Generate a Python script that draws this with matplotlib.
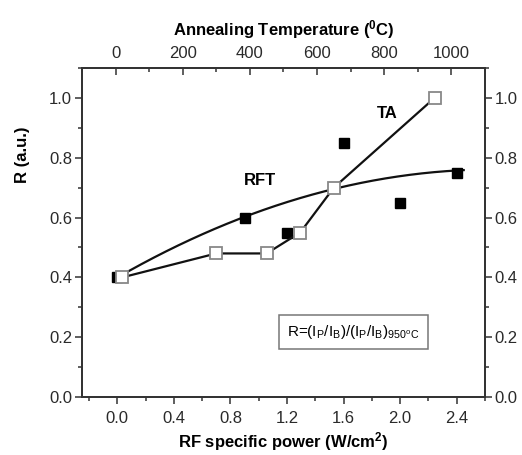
import numpy as np
import matplotlib
matplotlib.use("Agg")
import matplotlib.pyplot as plt
from matplotlib.ticker import MultipleLocator, FormatStrFormatter

plt.rcParams['font.family'] = ['Liberation Sans', 'DejaVu Sans']
plt.rcParams['mathtext.fontset'] = 'custom'
plt.rcParams['mathtext.rm'] = 'Liberation Sans'
plt.rcParams['mathtext.it'] = 'Liberation Sans'

# RFT: R vs RF specific power (W/cm2)
rft_power = [0.0, 0.9, 1.2, 1.6, 2.0, 2.4]
rft_R = [0.40, 0.60, 0.55, 0.85, 0.65, 0.75]

# RFT trend line
rft_trend_power = [0.0, 0.9, 1.55, 2.45]
rft_trend_R = [0.40, 0.60, 0.70, 0.758]

# TA: R vs annealing temperature (C)
ta_temp = [20, 300, 450, 550, 650, 950]
ta_R = [0.40, 0.48, 0.48, 0.55, 0.70, 1.00]

fig = plt.figure(figsize=(5.22, 4.55), dpi=100)
ax = fig.add_axes([0.157, 0.1275, 0.772, 0.723])
ax2 = ax.twiny()

spine_c = '#333333'
for a in (ax, ax2):
    for s in a.spines.values():
        s.set_color(spine_c)
        s.set_linewidth(1.3)

coef = np.polyfit(rft_trend_power, rft_trend_R, 2)
xs = np.linspace(rft_trend_power[0], rft_trend_power[-1], 200)
ax.plot(xs, np.polyval(coef, xs), color='#111111', lw=1.6, zorder=2)
ax.plot(rft_power, rft_R, 's', color='black', ms=7.5, zorder=3)

ax2.plot(ta_temp, ta_R, '-', color='#111111', lw=1.6, zorder=2)
ax2.plot(ta_temp, ta_R, 's', mfc='white', mec='#888888', mew=1.3, ms=8.5, zorder=4)

ax.set_xlim(-0.25, 2.6)
ax.set_ylim(0.0, 1.1)
ax2.set_xlim(-100, 1100)

ax.xaxis.set_major_locator(MultipleLocator(0.4))
ax.xaxis.set_minor_locator(MultipleLocator(0.2))
ax.yaxis.set_major_locator(MultipleLocator(0.2))
ax.yaxis.set_minor_locator(MultipleLocator(0.1))
ax2.xaxis.set_major_locator(MultipleLocator(200))
ax2.xaxis.set_minor_locator(MultipleLocator(100))

ax.xaxis.set_major_formatter(FormatStrFormatter('%.1f'))
ax.yaxis.set_major_formatter(FormatStrFormatter('%.1f'))

lab_c = '#2a2a2a'
ax.tick_params(axis='both', which='both', direction='out', color=spine_c,
               labelsize=12, labelcolor=lab_c)
ax.tick_params(axis='y', which='both', left=True, right=True, labelleft=True, labelright=True, pad=2)
ax.tick_params(axis='x', which='both', pad=5)
ax.tick_params(which='major', length=5, width=1.1)
ax.tick_params(which='minor', length=3, width=1.1)
ax.tick_params(axis='x', which='both', top=False)
ax2.tick_params(axis='x', which='both', direction='in', color=spine_c,
                labelsize=12, labelcolor=lab_c, width=1.1, pad=5)
ax2.tick_params(axis='x', which='major', length=5)
ax2.tick_params(axis='x', which='minor', length=3)
ax2.tick_params(axis='y', which='both', left=False, right=False, labelleft=False, labelright=False)

ax.set_xlabel('RF specific power (W/cm$^\\mathregular{2}$)', fontsize=12, fontweight='bold', labelpad=3)
ax.set_ylabel('R (a.u.)', fontsize=12, fontweight='bold')
ax.yaxis.set_label_coords(-0.13, 0.735)
ax2.set_xlabel('Annealing Temperature ($^\\mathregular{0}$C)', fontsize=12, fontweight='bold', labelpad=8)

ax.text(1.01, 0.723, 'RFT', fontsize=12, fontweight='bold', ha='center', va='center')
ax.text(1.91, 0.947, 'TA', fontsize=12, fontweight='bold', ha='center', va='center')

ax.text(1.67, 0.217,
        r'R=(I$_\mathregular{P}$/I$_\mathregular{B}$)/(I$_\mathregular{P}$/I$_\mathregular{B}$)$_\mathregular{950^oC}$',
        fontsize=11, ha='center', va='center',
        bbox=dict(boxstyle='square,pad=0.55', fc='white', ec='#777777', lw=1.1))

fig.savefig('out.png', dpi=100)
